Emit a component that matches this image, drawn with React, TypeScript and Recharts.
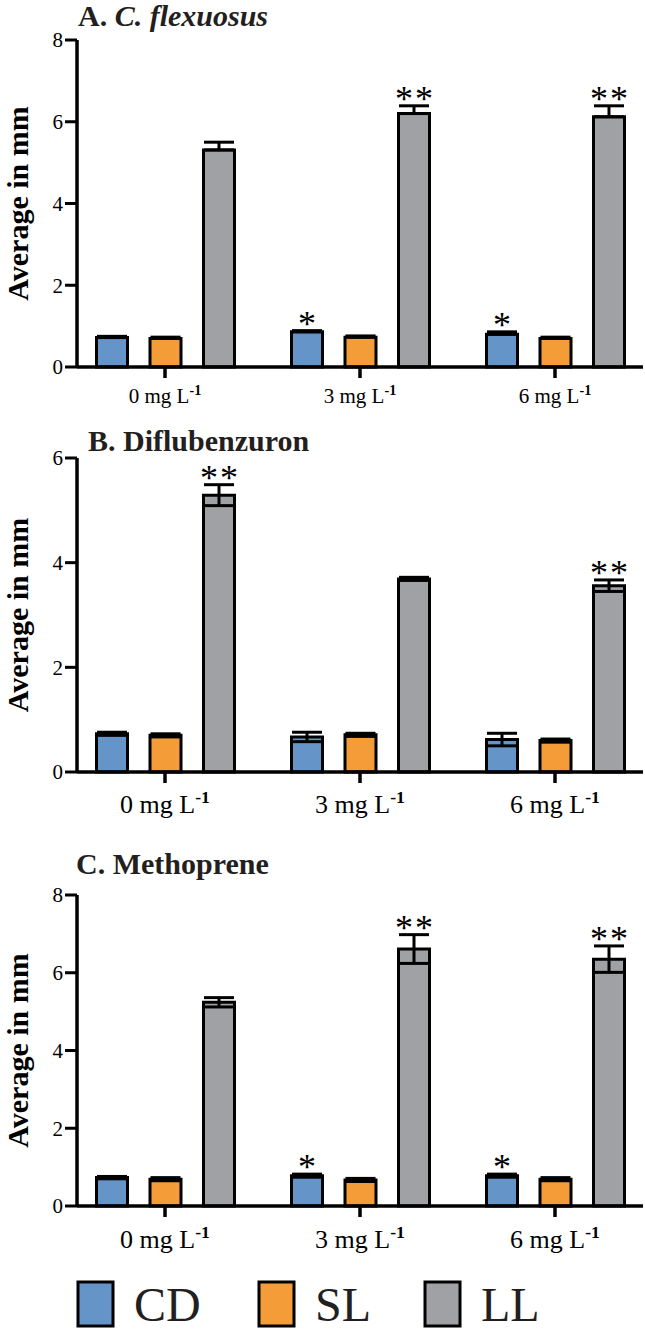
import React from 'react';
import { BarChart, Bar, XAxis, YAxis, ErrorBar, LabelList } from 'recharts';

const FONT = '"Liberation Serif", "DejaVu Serif", "Times New Roman", serif';

// concentrations (mg L-1)
const categories = ['0', '3', '6'];

// A. C. flexuosus
const cdA = [0.72, 0.86, 0.8];
const slA = [0.7, 0.73, 0.7];
const llA = [5.31, 6.2, 6.12];
const cdErrA = [0.03, 0.03, 0.06];
const slErrA = [0.03, 0.03, 0.03];
const llErrA = [0.19, 0.19, 0.27];
const cdStarA = ['', '*', '*'];
const llStarA = ['', '**', '**'];

// B. Diflubenzuron
const cdB = [0.73, 0.67, 0.62];
const slB = [0.7, 0.71, 0.6];
const llB = [5.29, 3.69, 3.56];
const cdErrB = [0.03, 0.09, 0.12];
const slErrB = [0.03, 0.03, 0.03];
const llErrB = [0.2, 0.03, 0.11];
const cdStarB = ['', '', ''];
const llStarB = ['**', '', '**'];

// C. Methoprene
const cdC = [0.73, 0.78, 0.78];
const slC = [0.69, 0.67, 0.69];
const llC = [5.24, 6.61, 6.35];
const cdErrC = [0.03, 0.04, 0.04];
const slErrC = [0.04, 0.04, 0.04];
const llErrC = [0.12, 0.37, 0.34];
const cdStarC = ['', '*', '*'];
const llStarC = ['', '**', '**'];

const seriesNames = ['CD', 'SL', 'LL'];
const COLORS = ['#6594c9', '#f39c38', '#a0a1a5'];

const buildRows = (
  cd: number[], sl: number[], ll: number[],
  cdErr: number[], slErr: number[], llErr: number[],
  cdStar: string[], llStar: string[], both: boolean
) =>
  categories.map((cat, i) => ({
    cat,
    cd: cd[i],
    sl: sl[i],
    ll: ll[i],
    cdErr: [both ? cdErr[i] : 0, cdErr[i]],
    slErr: [both ? slErr[i] : 0, slErr[i]],
    llErr: [both ? llErr[i] : 0, llErr[i]],
    cdStar: `${cdStar[i]}|${cdErr[i]}`,
    llStar: `${llStar[i]}|${llErr[i]}`,
  }));

const panels = [
  {
    key: 'A',
    plotTop: 40,
    plotBottom: 367,
    max: 8,
    ticks: [0, 2, 4, 6, 8],
    rows: buildRows(cdA, slA, llA, cdErrA, slErrA, llErrA, cdStarA, llStarA, false),
    labelSize: 21,
    labelDy: 24,
  },
  {
    key: 'B',
    plotTop: 458,
    plotBottom: 772,
    max: 6,
    ticks: [0, 2, 4, 6],
    rows: buildRows(cdB, slB, llB, cdErrB, slErrB, llErrB, cdStarB, llStarB, true),
    labelSize: 26,
    labelDy: 29,
  },
  {
    key: 'C',
    plotTop: 895,
    plotBottom: 1206,
    max: 8,
    ticks: [0, 2, 4, 6, 8],
    rows: buildRows(cdC, slC, llC, cdErrC, slErrC, llErrC, cdStarC, llStarC, true),
    labelSize: 26,
    labelDy: 30,
  },
];

const XTick = (props: any) => {
  const { x, y, payload, size, dy } = props;
  return (
    <text x={x} y={y + dy} textAnchor="middle" style={{ fontFamily: FONT }} fontSize={size} fill="#000">
      <tspan>{`${payload.value} mg L`}</tspan>
      <tspan dy={-size * 0.38} fontSize={size * 0.68} fontWeight="bold">-1</tspan>
    </text>
  );
};

const makeStars = (pxPerUnit: number) => (props: any) => {
  const { x, y, width, value } = props;
  const [stars, err] = String(value ?? '').split('|');
  if (!stars) return null;
  const cx = Number(x) + Number(width) / 2;
  const base = Number(y) - Number(err) * pxPerUnit + 5;
  const offsets = stars.length === 2 ? [-10, 10] : [0];
  return (
    <g>
      {offsets.map((o) => (
        <text key={o} x={cx + o} y={base} textAnchor="middle" style={{ fontFamily: FONT }} fontSize={36} fill="#000">
          *
        </text>
      ))}
    </g>
  );
};

const Panel = ({ p }: { p: (typeof panels)[number] }) => {
  const plotH = p.plotBottom - p.plotTop;
  const pxPerUnit = plotH / p.max;
  const stars = makeStars(pxPerUnit);
  return (
    <div style={{ position: 'absolute', left: 0, top: p.plotTop - 20 }}>
      <BarChart
        width={645}
        height={plotH + 80}
        data={p.rows}
        margin={{ top: 20, right: 2, bottom: 0, left: 0 }}
        barSize={31}
        barGap={22.5}
      >
        <XAxis
          dataKey="cat"
          height={60}
          padding={{ left: -9.5, right: -9.5 }}
          axisLine={{ stroke: '#000', strokeWidth: 3.5 }}
          tickLine={{ stroke: '#000', strokeWidth: 3.5 }}
          tickSize={11}
          tickMargin={1}
          interval={0}
          tick={(t: any) => <XTick {...t} size={p.labelSize} dy={p.labelDy} />}
        />
        <YAxis
          width={77}
          domain={[0, p.max]}
          ticks={p.ticks}
          interval={0}
          axisLine={{ stroke: '#000', strokeWidth: 3.5 }}
          tickLine={{ stroke: '#000', strokeWidth: 3 }}
          tickSize={12}
          tickMargin={2}
          tick={{ fill: '#000', fontSize: 21, style: { fontFamily: FONT } }}
        />
        <Bar dataKey="cd" fill={COLORS[0]} stroke="#000" strokeWidth={3} isAnimationActive={false}>
          <ErrorBar dataKey="cdErr" width={15} stroke="#000" strokeWidth={3} direction="y" />
          <LabelList dataKey="cdStar" content={stars} />
        </Bar>
        <Bar dataKey="sl" fill={COLORS[1]} stroke="#000" strokeWidth={3} isAnimationActive={false}>
          <ErrorBar dataKey="slErr" width={15} stroke="#000" strokeWidth={3} direction="y" />
        </Bar>
        <Bar dataKey="ll" fill={COLORS[2]} stroke="#000" strokeWidth={3} isAnimationActive={false}>
          <ErrorBar dataKey="llErr" width={15} stroke="#000" strokeWidth={3} direction="y" />
          <LabelList dataKey="llStar" content={stars} />
        </Bar>
      </BarChart>
    </div>
  );
};

const legendX = [78, 259, 425];

export default function App() {
  return (
    <div style={{ position: 'absolute', left: 0, top: 0, width: 645, height: 1332, background: '#fff', fontFamily: FONT }}>
      {panels.map((p) => (
        <Panel key={p.key} p={p} />
      ))}
      <svg
        width={645}
        height={1332}
        style={{ position: 'absolute', left: 0, top: 0, pointerEvents: 'none', fontFamily: FONT }}
      >
        <text x={78} y={26} fontSize={30} fontWeight="bold" fill="#231f20">
          A. <tspan fontStyle="italic">C. flexuosus</tspan>
        </text>
        <text x={88} y={451} fontSize={30} fontWeight="bold" fill="#231f20">
          B. Diflubenzuron
        </text>
        <text x={76} y={874} fontSize={30} fontWeight="bold" fill="#231f20">
          C. Methoprene
        </text>
        {panels.map((p) => (
          <text
            key={p.key}
            transform={`translate(17, ${(p.plotTop + p.plotBottom) / 2}) rotate(-90)`}
            textAnchor="middle"
            dominantBaseline="central"
            fontSize={30}
            fontWeight="bold"
            fill="#000"
          >
            Average in mm
          </text>
        ))}
        {seriesNames.map((name, i) => (
          <g key={name}>
            <rect x={legendX[i]} y={1282} width={35} height={44} fill={COLORS[i]} stroke="#000" strokeWidth={3} />
            <text x={legendX[i] + 56} y={1321} fontSize={48} fill="#231f20">
              {name}
            </text>
          </g>
        ))}
      </svg>
    </div>
  );
}
